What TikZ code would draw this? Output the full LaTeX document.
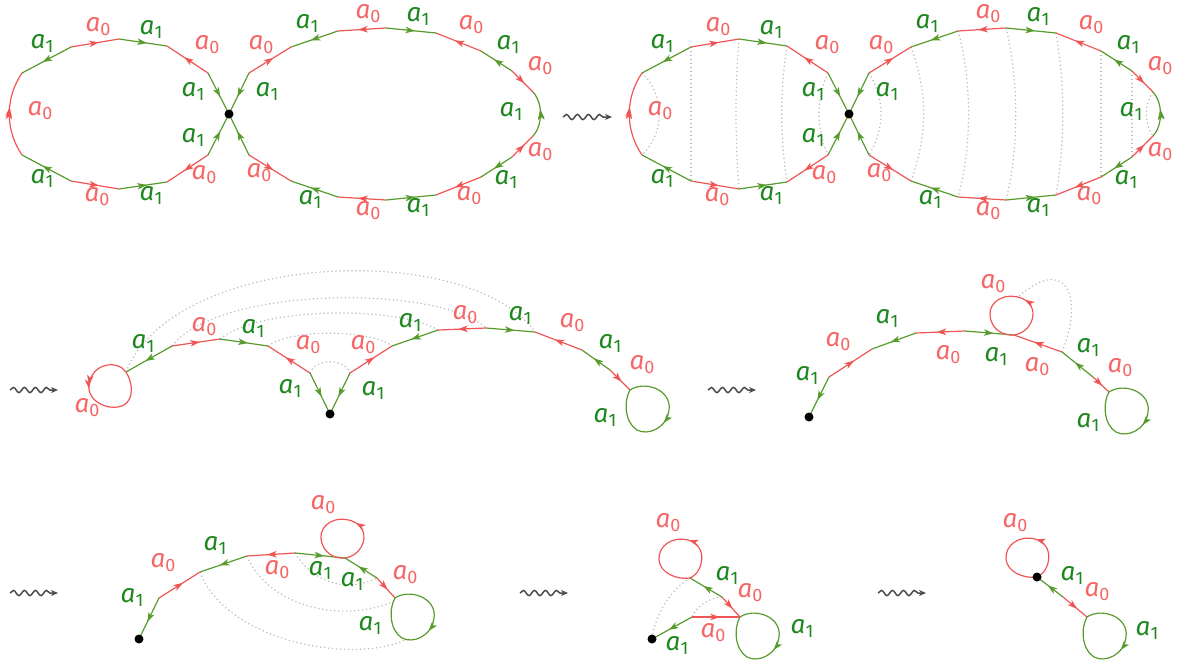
\documentclass[tikz,border=0pt]{standalone}
\usepackage{fontspec}
\newfontfamily\labfont{Fira Sans}
\usetikzlibrary{arrows.meta,decorations.markings,decorations.pathmorphing}

\definecolor{lr}{RGB}{240,85,85}
\definecolor{tr}{RGB}{246,102,102}
\definecolor{lg}{RGB}{88,155,45}
\definecolor{tg}{RGB}{30,135,30}
\definecolor{dg}{RGB}{185,185,185}
\definecolor{sq}{RGB}{75,75,75}

\newcommand\azero{{\labfont\itshape a}{\labfont\raisebox{-4pt}{\fontsize{18}{18}\selectfont 0}}}
\newcommand\aone{{\labfont\itshape a}{\labfont\raisebox{-4pt}{\fontsize{18}{18}\selectfont 1}}}

\tikzset{
  mk/.style={postaction={decorate,decoration={markings,mark=at position #1 with {\arrow{Stealth[length=9.5pt,width=6.5pt,inset=2.5pt]}}}}},
  mk/.default=0.58,
  redge/.style={color=lr, line width=1.2pt, mk},
  gedge/.style={color=lg, line width=1.2pt, mk},
  rloop/.style={color=lr, line width=1.2pt, mk=0.37},
  gloop/.style={color=lg, line width=1.2pt, mk=0.48},
  lz/.style={text=tr, inner sep=0pt, font=\fontsize{26}{30}\selectfont},
  lo/.style={text=tg, inner sep=0pt, font=\fontsize{26}{30}\selectfont},
  dots/.style={draw=dg, line width=1.2pt, dash pattern=on 1.2pt off 2.8pt},
  vdot/.style={circle, fill=black, inner sep=0pt, minimum size=9pt},
  squig/.style={draw=sq, line width=1.5pt, decorate,
    decoration={snake, amplitude=2.6pt, segment length=11pt, post length=6pt},
    -{Stealth[length=7pt,width=6pt]}}
}

% loop shapes, attach point at (0,0)
\newcommand\RedLoopA{(0,0) .. controls (20,-3) and (27,-30) .. (7,-37) .. controls (-10,-43) and (-25,-33) .. (-24,-20) .. controls (-23,-5) and (-10,1) .. (0,0)}
\newcommand\RedLoopB{(0,0) .. controls (14,-6) and (18,-33) .. (-2,-38) .. controls (-18,-42) and (-32,-32) .. (-31,-18) .. controls (-30,-5) and (-13,2) .. (0,0)}
\newcommand\GreenLoop{(0,0) .. controls (15,-10) and (42,0) .. (39,20) .. controls (37,38) and (18,46) .. (7,40) .. controls (-6,32) and (-6,10) .. (0,0)}

\newcommand\FigEightCoords{
  \coordinate (c) at (229,114);
  \coordinate (L1t) at (208,73);  \coordinate (L1b) at (208,155);
  \coordinate (L2t) at (167,46);  \coordinate (L2b) at (167,182);
  \coordinate (L3t) at (119,39);  \coordinate (L3b) at (119,189);
  \coordinate (L4t) at (71,47);   \coordinate (L4b) at (71,181);
  \coordinate (L5t) at (22,73);   \coordinate (L5b) at (22,155);
  \coordinate (R0t) at (249,73);  \coordinate (R0b) at (249,155);
  \coordinate (R1t) at (291,47);  \coordinate (R1b) at (291,181);
  \coordinate (R2t) at (338,31);  \coordinate (R2b) at (338,197);
  \coordinate (R3t) at (386,28);  \coordinate (R3b) at (386,200);
  \coordinate (R4t) at (436,33);  \coordinate (R4b) at (436,195);
  \coordinate (R5t) at (481,51);  \coordinate (R5b) at (481,177);
  \coordinate (R6t) at (512,71);  \coordinate (R6b) at (512,157);
  \coordinate (R7t) at (533,92);  \coordinate (R7b) at (533,136);
}
\newcommand\FigEightDraw{
  % left loop
  \draw[gedge] (L1t) -- (c);
  \draw[redge] (L1t) -- (L2t);
  \draw[gedge] (L3t) -- (L2t);
  \draw[redge] (L4t) -- (L3t);
  \draw[gedge] (L4t) -- (L5t);
  \draw[redge,mk=0.55] (L5b) .. controls (5,130) and (5,98) .. (L5t);
  \draw[gedge] (L4b) -- (L5b);
  \draw[redge] (L4b) -- (L3b);
  \draw[gedge] (L3b) -- (L2b);
  \draw[redge] (L1b) -- (L2b);
  \draw[gedge] (L1b) -- (c);
  % right loop
  \draw[gedge] (R0t) -- (c);
  \draw[redge] (R0t) -- (R1t);
  \draw[gedge] (R2t) -- (R1t);
  \draw[redge] (R3t) -- (R2t);
  \draw[gedge] (R3t) -- (R4t);
  \draw[redge] (R5t) -- (R4t);
  \draw[gedge] (R6t) -- (R5t);
  \draw[redge] (R6t) -- (R7t);
  \draw[gedge,mk=0.6] (R7b) .. controls (543,125) and (543,103) .. (R7t);
  \draw[redge] (R6b) -- (R7b);
  \draw[gedge] (R6b) -- (R5b);
  \draw[redge] (R5b) -- (R4b);
  \draw[gedge] (R3b) -- (R4b);
  \draw[redge] (R3b) -- (R2b);
  \draw[gedge] (R2b) -- (R1b);
  \draw[redge] (R0b) -- (R1b);
  \draw[gedge] (R0b) -- (c);
  \node[vdot] (cdot) at (c) {};
  % labels left
  \node[lo] (n1) at (193,91) {\aone};
  \node[lz] (n2) at (207,45) {\azero};
  \node[lo] (n3) at (151,29) {\aone};
  \node[lz] (n4) at (98,27) {\azero};
  \node[lo] (n5) at (42,43) {\aone};
  \node[lz] (n6) at (40,111) {\azero};
  \node[lo] (n7) at (42,178) {\aone};
  \node[lz] (n8) at (97,197) {\azero};
  \node[lo] (n9) at (151,195) {\aone};
  \node[lz] (n10) at (204,175) {\azero};
  \node[lo] (n11) at (193,137) {\aone};
  % labels right
  \node[lo] (m1) at (267,91) {\aone};
  \node[lz] (m2) at (261,45) {\azero};
  \node[lo] (m3) at (307,23) {\aone};
  \node[lz] (m4) at (368,14) {\azero};
  \node[lo] (m5) at (418,16) {\aone};
  \node[lz] (m6) at (471,25) {\azero};
  \node[lo] (m7) at (508,44) {\aone};
  \node[lz] (m8) at (540,66) {\azero};
  \node[lo] (m9) at (511,111) {\aone};
  \node[lz] (m10) at (540,152) {\azero};
  \node[lo] (m11) at (506,179) {\aone};
  \node[lz] (m12) at (469,196) {\azero};
  \node[lo] (m13) at (418,207) {\aone};
  \node[lz] (m14) at (368,211) {\azero};
  \node[lo] (m15) at (310,199) {\aone};
  \node[lz] (m16) at (259,173) {\azero};
}

\begin{document}
\begin{tikzpicture}[x=1pt,y=-1pt]
\useasboundingbox (0,0) rectangle (1182,662);

% ---------- panel 1 ----------
\begin{scope}[name prefix=A-]
  \FigEightCoords
  \FigEightDraw
\end{scope}

% squiggle 1
\coordinate (s1a) at (563,117); \coordinate (s1b) at (612,117);
\draw[squig] (s1a) -- (s1b);

% ---------- panel 2 ----------
\begin{scope}[shift={(620,0)}, name prefix=B-]
  \FigEightCoords
  \draw[dots] (L5t) .. controls (45,95) and (45,133) .. (L5b);
  \draw[dots] (L4t) -- (L4b);
  \draw[dots] (L3t) .. controls (115,90) and (115,138) .. (L3b);
  \draw[dots] (L2t) .. controls (160,90) and (160,138) .. (L2b);
  \draw[dots] (L1t) .. controls (196,100) and (196,128) .. (L1b);
  \draw[dots] (R0t) .. controls (265,100) and (265,128) .. (R0b);
  \draw[dots] (R1t) .. controls (308,95) and (308,133) .. (R1b);
  \draw[dots] (R2t) .. controls (352,80) and (352,148) .. (R2b);
  \draw[dots] (R3t) .. controls (399,80) and (399,148) .. (R3b);
  \draw[dots] (R4t) .. controls (445,85) and (445,143) .. (R4b);
  \draw[dots] (R5t) -- (R5b);
  \draw[dots] (R6t) -- (R6b);
  \draw[dots] (R7t) .. controls (524,105) and (524,123) .. (R7b);
  \FigEightDraw
\end{scope}

% ---------- row 2, panel A ----------
\coordinate (s2a) at (10,390); \coordinate (s2b) at (58,390);
\draw[squig] (s2a) -- (s2b);
\coordinate (P0) at (126,372);
\coordinate (P1) at (172,346);
\coordinate (P2) at (220,339);
\coordinate (P3) at (268,346);
\coordinate (P4) at (310,373);
\coordinate (V1) at (330,414);
\coordinate (P5) at (350,373);
\coordinate (P6) at (392,346);
\coordinate (P7) at (438,330);
\coordinate (P8) at (486,328);
\coordinate (P9) at (535,332);
\coordinate (P10) at (582,350);
\coordinate (P11) at (610,370);
\coordinate (P12) at (630,390);
\draw[dots] (P0) .. controls (175,250) and (470,240) .. (P9);
\draw[dots] (P1) .. controls (220,285) and (440,285) .. (P8);
\draw[dots] (P2) .. controls (260,306) and (400,306) .. (P7);
\draw[dots] (P3) .. controls (290,329) and (370,329) .. (P6);
\draw[dots] (P4) .. controls (315,358) and (345,358) .. (P5);
\begin{scope}[shift={(P0)}]
  \draw[rloop,mk=0.4] (0,0) .. controls (-8,-12) and (-34,-10) .. (-37,13) .. controls (-39,30) and (-16,40) .. (-2,33) .. controls (8,27) and (7,11) .. (0,0);
\end{scope}
\draw[gedge] (P1) -- (P0);
\draw[redge] (P1) -- (P2);
\draw[gedge] (P2) -- (P3);
\draw[redge] (P4) -- (P3);
\draw[gedge] (P4) -- (V1);
\draw[gedge] (P5) -- (V1);
\draw[redge] (P5) -- (P6);
\draw[gedge] (P7) -- (P6);
\draw[redge] (P8) -- (P7);
\draw[gedge] (P8) -- (P9);
\draw[redge] (P10) -- (P9);
\draw[gedge] (P11) -- (P10);
\draw[redge] (P11) -- (P12);
\begin{scope}[shift={(P12)}]
  \draw[gloop] \GreenLoop;
\end{scope}
\node[vdot] (V1dot) at (V1) {};
\node[lz] (p1) at (87,408) {\azero};
\node[lo] (p2) at (143,343) {\aone};
\node[lz] (p3) at (204,327) {\azero};
\node[lo] (p4) at (253,328) {\aone};
\node[lz] (p5) at (308,345) {\azero};
\node[lo] (p6) at (290,388) {\aone};
\node[lo] (p7) at (373,390) {\aone};
\node[lz] (p8) at (363,345) {\azero};
\node[lo] (p9) at (410,322) {\aone};
\node[lz] (p10) at (465,315) {\azero};
\node[lo] (p11) at (520,315) {\aone};
\node[lz] (p12) at (572,323) {\azero};
\node[lo] (p13) at (610,343) {\aone};
\node[lz] (p14) at (642,365) {\azero};
\node[lo] (p15) at (605,417) {\aone};

% ---------- row 2, panel B ----------
\coordinate (s3a) at (708,390); \coordinate (s3b) at (756,390);
\draw[squig] (s3a) -- (s3b);
\coordinate (V2) at (809,417);
\coordinate (Q1) at (829,377);
\coordinate (Q2) at (872,349);
\coordinate (Q3) at (916,333);
\coordinate (Q4) at (965,331);
\coordinate (Q5) at (1014,335);
\coordinate (Q5top) at (1018,297);
\coordinate (Q6) at (1062,352);
\coordinate (Q7) at (1093,377);
\coordinate (Q8) at (1109,392);
\draw[dots] (Q6) .. controls (1085,295) and (1065,255) .. (Q5top);
\draw[gedge] (Q1) -- (V2);
\draw[redge] (Q1) -- (Q2);
\draw[gedge] (Q3) -- (Q2);
\draw[redge] (Q4) -- (Q3);
\draw[gedge] (Q4) -- (Q5);
\begin{scope}[shift={(Q5)}]
  \draw[rloop] \RedLoopA;
\end{scope}
\draw[redge] (Q6) -- (Q5);
\draw[gedge] (Q7) -- (Q6);
\draw[redge] (Q7) -- (Q8);
\begin{scope}[shift={(Q8)}]
  \draw[gloop] \GreenLoop;
\end{scope}
\node[vdot] (V2dot) at (V2) {};
\node[lo] (q1) at (807,375) {\aone};
\node[lz] (q2) at (838,342) {\azero};
\node[lo] (q3) at (887,318) {\aone};
\node[lz] (q4) at (948,355) {\azero};
\node[lo] (q5) at (996,356) {\aone};
\node[lz] (q6) at (993,284) {\azero};
\node[lz] (q7) at (1037,367) {\azero};
\node[lo] (q8) at (1088,347) {\aone};
\node[lz] (q9) at (1120,368) {\azero};
\node[lo] (q10) at (1088,422) {\aone};

% ---------- row 3, panel A ----------
\coordinate (s4a) at (10,593); \coordinate (s4b) at (58,593);
\draw[squig] (s4a) -- (s4b);
\coordinate (V3) at (139,639);
\coordinate (S1) at (159,598);
\coordinate (S2) at (200,572);
\coordinate (S3) at (247,556);
\coordinate (S4) at (295,553);
\coordinate (S5) at (345,558);
\coordinate (S6) at (377,578);
\coordinate (S7) at (395,598);
\coordinate (S7l) at (390,603);
\coordinate (S7b) at (405,640);
\draw[dots] (S4) .. controls (315,585) and (350,592) .. (S6);
\draw[dots] (S3) .. controls (265,600) and (330,625) .. (S7l);
\draw[dots] (S2) .. controls (225,640) and (350,665) .. (S7b);
\draw[gedge] (S1) -- (V3);
\draw[redge] (S1) -- (S2);
\draw[gedge] (S3) -- (S2);
\draw[redge] (S4) -- (S3);
\draw[gedge] (S4) -- (S5);
\begin{scope}[shift={(S5)}]
  \draw[rloop] \RedLoopA;
\end{scope}
\draw[gedge] (S6) -- (S5);
\draw[redge] (S6) -- (S7);
\begin{scope}[shift={(S7)}]
  \draw[gloop] \GreenLoop;
\end{scope}
\node[vdot] (V3dot) at (V3) {};
\node[lo] (s1) at (132,597) {\aone};
\node[lz] (s2) at (163,563) {\azero};
\node[lo] (s3) at (215,545) {\aone};
\node[lz] (s4) at (277,570) {\azero};
\node[lo] (s5) at (320,570) {\aone};
\node[lz] (s6) at (323,505) {\azero};
\node[lo] (s7) at (352,581) {\aone};
\node[lz] (s8) at (405,575) {\azero};
\node[lo] (s9) at (370,625) {\aone};

% ---------- row 3, panel B ----------
\coordinate (s5a) at (520,593); \coordinate (s5b) at (568,593);
\draw[squig] (s5a) -- (s5b);
\coordinate (V4) at (652,639);
\coordinate (U1) at (692,617);
\coordinate (U2) at (740,617);
\coordinate (U3) at (722,597);
\coordinate (U4) at (690,578);
\draw[dots] (U4) .. controls (670,590) and (655,615) .. (V4);
\draw[dots] (U3) .. controls (708,598) and (696,607) .. (U1);
\draw[gedge] (U1) -- (V4);
\draw[redge] (U1) -- (U2);
\begin{scope}[shift={(U2)}]
  \draw[gloop] \GreenLoop;
\end{scope}
\draw[redge] (U3) -- (U2);
\draw[gedge] (U3) -- (U4);
\begin{scope}[shift={(U4)}]
  \draw[rloop] \RedLoopB;
\end{scope}
\node[vdot] (V4dot) at (V4) {};
\node[lo] (u1) at (677,645) {\aone};
\node[lz] (u2) at (713,633) {\azero};
\node[lo] (u3) at (802,628) {\aone};
\node[lz] (u4) at (750,593) {\azero};
\node[lo] (u5) at (727,575) {\aone};
\node[lz] (u6) at (668,523) {\azero};

% ---------- row 3, panel C ----------
\coordinate (s6a) at (878,593); \coordinate (s6b) at (926,593);
\draw[squig] (s6a) -- (s6b);
\coordinate (V5) at (1037,577);
\coordinate (W1) at (1063,597);
\coordinate (W2) at (1087,617);
\begin{scope}[shift={(V5)}]
  \draw[rloop] \RedLoopB;
\end{scope}
\draw[gedge] (W1) -- (V5);
\draw[redge] (W1) -- (W2);
\begin{scope}[shift={(W2)}]
  \draw[gloop] \GreenLoop;
\end{scope}
\node[vdot] (V5dot) at (V5) {};
\node[lz] (w1) at (1015,523) {\azero};
\node[lo] (w2) at (1072,575) {\aone};
\node[lz] (w3) at (1097,592) {\azero};
\node[lo] (w4) at (1147,630) {\aone};
\end{tikzpicture}
\end{document}
